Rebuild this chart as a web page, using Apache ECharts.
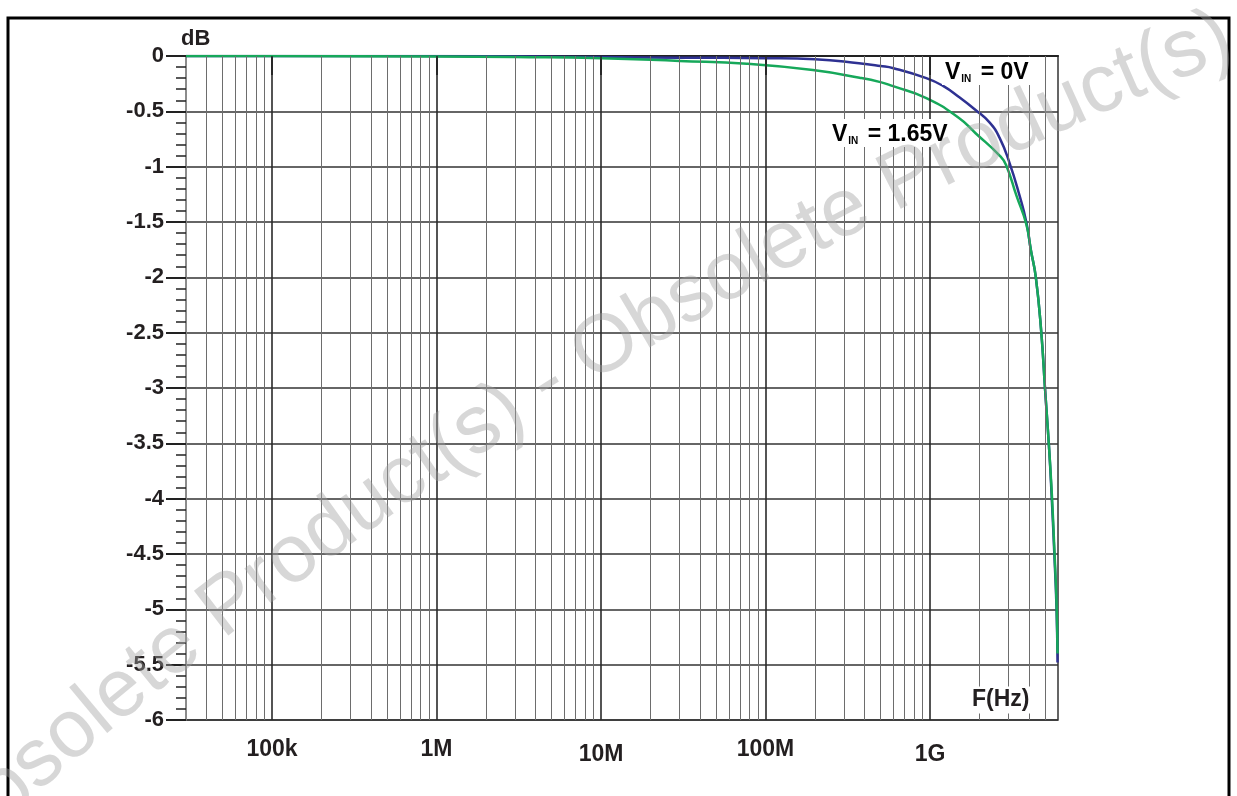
<!DOCTYPE html>
<html>
<head>
<meta charset="utf-8">
<script src="https://cdn.jsdelivr.net/npm/echarts@6/dist/echarts.min.js"></script>
<style>
html,body{margin:0;padding:0;background:#fff;}
#chart{width:1237px;height:796px;}
</style>
</head>
<body>
<div id="chart"></div>
<script>
// ---- Data ----
const freqBlue = [3e4, 1e5, 1e6, 1e7, 3e7, 1e8, 2e8, 3.7e8, 5e8, 6e8, 9.5e8, 1.2e9, 1.5e9, 1.9e9, 2.3e9, 2.65e9, 3.05e9, 3.5e9, 3.85e9, 4.1e9, 4.4e9, 4.75e9, 5.0e9, 5.3e9, 5.5e9, 5.7e9, 5.88e9, 5.96e9];
const dbBlue   = [0, 0, 0, -0.01, -0.015, -0.02, -0.03, -0.065, -0.09, -0.11, -0.2, -0.27, -0.37, -0.49, -0.6, -0.74, -0.97, -1.26, -1.5, -1.75, -2.0, -2.5, -3.0, -3.55, -4.0, -4.5, -5.0, -5.48];
const freqGreen = [3e4, 1e5, 1e6, 3e6, 1e7, 3e7, 7.7e7, 1.94e8, 3.73e8, 5e8, 5.9e8, 9.5e8, 1.5e9, 1.9e9, 2.65e9, 2.9e9, 3.35e9, 3.85e9, 4.1e9, 4.4e9, 4.75e9, 5.0e9, 5.3e9, 5.5e9, 5.7e9, 5.88e9, 5.96e9];
const dbGreen   = [0, 0, -0.005, -0.01, -0.02, -0.045, -0.07, -0.127, -0.196, -0.236, -0.27, -0.38, -0.56, -0.70, -0.9, -0.985, -1.26, -1.52, -1.75, -2.0, -2.5, -3.0, -3.55, -3.95, -4.45, -4.95, -5.4];
const seriesNames = ['VIN = 0V', 'VIN = 1.65V'];
const xTickValues = [1e5, 1e6, 1e7, 1e8, 1e9];
const xTickLabels = ['100k', '1M', '10M', '100M', '1G'];
const xMin = 3e4, xMax = 6e9;
const yMin = -6, yMax = 0, yStep = 0.5;
const watermarkText = 'Obsolete Product(s) - Obsolete Product(s)';

// minor (2..9 x decade) grid positions
const minorLines = [];
for (let k = 4; k <= 9; k++) {
  for (let m = 2; m <= 9; m++) {
    const v = m * Math.pow(10, k);
    if (v > xMin && v < xMax) minorLines.push(v);
  }
}

const FONT = '"Liberation Sans", Arial, Helvetica, sans-serif';
const TXT = '#231f20';
const chart = echarts.init(document.getElementById('chart'), null, {renderer: 'canvas'});

const labelRich = {
  v: {fontFamily: FONT, fontWeight: 'bold', fontSize: 23, color: TXT, lineHeight: 26, verticalAlign: 'bottom'},
  s: {fontFamily: FONT, fontWeight: 'bold', fontSize: 10, color: TXT, lineHeight: 22, verticalAlign: 'bottom', padding: [0, 3, 0, 1]}
};
const xLabStyle = {fontFamily: FONT, fontWeight: 'bold', fontSize: 23, color: TXT};

// watermark along a gentle arc
function arcText(str, cx, cy, R, midX, midY, fontSize) {
  const cv = document.createElement('canvas').getContext('2d');
  cv.font = fontSize + 'px ' + FONT;
  const total = cv.measureText(str).width;
  const phi0 = Math.atan2(midY - cy, midX - cx);
  const out = [];
  let acc = 0;
  for (const ch of str) {
    const w = cv.measureText(ch).width;
    const s = acc + w / 2 - total / 2;
    acc += w;
    if (ch === ' ') continue;
    const phi = phi0 + s / R;
    const x = cx + R * Math.cos(phi), y = cy + R * Math.sin(phi);
    const tx = -Math.sin(phi), ty = Math.cos(phi);
    const rot = Math.atan2(-ty, tx);
    out.push({type: 'text', x: x, y: y, rotation: rot, z: 20, silent: true,
      style: {text: ch, fontFamily: FONT, fontSize: fontSize, fill: 'rgba(160,160,160,0.42)', align: 'center', verticalAlign: 'middle'}});
  }
  return out;
}

chart.setOption({
  animation: false,
  backgroundColor: '#ffffff',
  grid: {left: 186, top: 56, right: 179, bottom: 76, show: true, borderColor: '#333', borderWidth: 1.5, containLabel: false},
  xAxis: {
    type: 'log', logBase: 10, min: xMin, max: xMax,
    axisLine: {show: true, lineStyle: {color: '#222', width: 2}},
    axisTick: {show: true, customValues: xTickValues, length: 19, lineStyle: {color: '#222', width: 2}},
    axisLabel: {
      customValues: xTickValues, margin: 18,
      fontFamily: FONT, fontWeight: 'bold', fontSize: 23, color: TXT,
      rich: {
        a: Object.assign({padding: [0, 0, 0, 0]}, xLabStyle),
        b: Object.assign({padding: [5, 0, 0, 0]}, xLabStyle)
      },
      formatter: function (v) {
        const i = xTickValues.findIndex(t => Math.abs(Math.log10(t) - Math.log10(v)) < 1e-6);
        if (i < 0) return '';
        return (i % 2 === 0 && i > 0 ? '{b|' : '{a|') + xTickLabels[i] + '}';
      }
    },
    splitLine: {show: false},
    minorTick: {show: false}
  },
  yAxis: {
    type: 'value', min: yMin, max: yMax, interval: yStep,
    axisLine: {show: true, lineStyle: {color: '#999', width: 1.5}},
    axisTick: {show: true, length: 20, lineStyle: {color: '#222', width: 2}},
    minorTick: {show: true, splitNumber: 5, length: 10, lineStyle: {color: '#222', width: 1.5}},
    axisLabel: {margin: 22, fontFamily: FONT, fontWeight: 'bold', fontSize: 22, color: TXT},
    splitLine: {show: true, lineStyle: {color: '#333', width: 1.5}}
  },
  series: [
    {
      name: seriesNames[0], type: 'line', showSymbol: false, smooth: 0.5,
      data: freqBlue.map((f, i) => [f, dbBlue[i]]),
      lineStyle: {color: '#2e3192', width: 2.5}, z: 3,
      markLine: {
        silent: true, symbol: ['none', 'none'], label: {show: false}, animation: false,
        data: minorLines.map(v => ({xAxis: v, lineStyle: {color: '#6d6d6d', width: 1, type: 'solid'}}))
          .concat(xTickValues.map(v => ({xAxis: v, lineStyle: {color: '#2a2a2a', width: 1.6, type: 'solid'}})))
      }
    },
    {
      name: seriesNames[1], type: 'line', showSymbol: false, smooth: 0.5,
      data: freqGreen.map((f, i) => [f, dbGreen[i]]),
      lineStyle: {color: '#16a85a', width: 2.5}, z: 4
    }
  ],
  graphic: [
    {type: 'rect', shape: {x: 8, y: 18, width: 1221, height: 800}, style: {fill: 'none', stroke: '#000', lineWidth: 3}, z: 1, silent: true},
    {type: 'text', x: 181, y: 39, z: 10, style: {text: 'dB', fontFamily: FONT, fontWeight: 'bold', fontSize: 22, fill: TXT, verticalAlign: 'middle'}},
    {type: 'text', x: 942, y: 57, z: 10, style: {rich: labelRich, text: '{v|V}{s|IN}{v| = 0V}', backgroundColor: '#fff', padding: [1, 3, 1, 3]}},
    {type: 'text', x: 829, y: 119, z: 10, style: {rich: labelRich, text: '{v|V}{s|IN}{v| = 1.65V}', backgroundColor: '#fff', padding: [1, 3, 1, 3]}},
    {type: 'text', x: 970, y: 700, z: 10, style: {text: 'F(Hz)', fontFamily: FONT, fontWeight: 'bold', fontSize: 23, fill: TXT, verticalAlign: 'middle', backgroundColor: '#fff', padding: [2, 2, 2, 2]}}
  ].concat(arcText(watermarkText, 2815, 3969, 4242, 548, 383, 82))
});
</script>
</body>
</html>
